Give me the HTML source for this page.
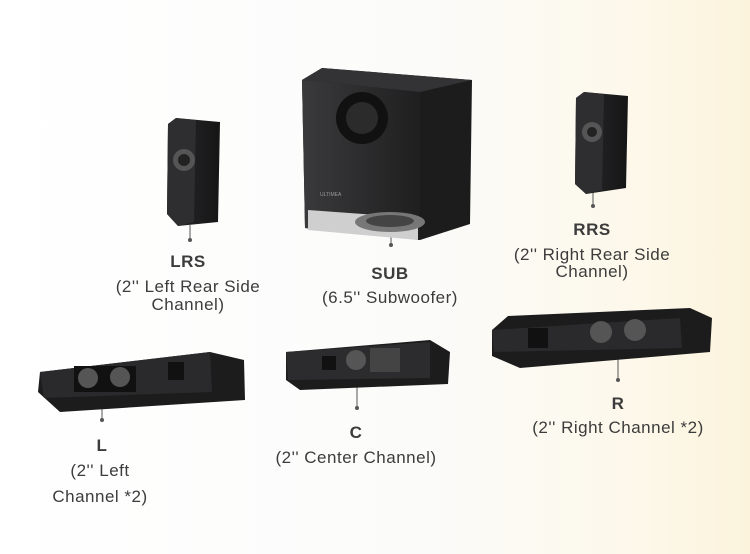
<!DOCTYPE html>
<html><head><meta charset="utf-8"><style>
html,body{margin:0;padding:0}
body{width:750px;height:554px;overflow:hidden;background:linear-gradient(90deg,#ffffff 0%,#fbfbfa 55%,#fdf8ea 85%,#fbf3dc 100%);font-family:"Liberation Sans",sans-serif}
svg{position:absolute;left:0;top:0}
</style></head><body>
<svg width="750" height="554" viewBox="0 0 750 554" xmlns="http://www.w3.org/2000/svg">
<defs>
<linearGradient id="dk" x1="0" y1="0" x2="1" y2="0"><stop offset="0" stop-color="#2a2a2c"/><stop offset="1" stop-color="#151516"/></linearGradient>
<linearGradient id="side" x1="0" y1="0" x2="1" y2="0"><stop offset="0" stop-color="#3a3a3c"/><stop offset="1" stop-color="#1f1f20"/></linearGradient>
</defs>
<g stroke="#555" stroke-width="1">
<line x1="190" y1="225" x2="190" y2="240"/><line x1="391" y1="232" x2="391" y2="245"/>
<line x1="593" y1="192" x2="593" y2="206"/><line x1="102" y1="398" x2="102" y2="420"/>
<line x1="357" y1="372" x2="357" y2="408"/><line x1="618" y1="355" x2="618" y2="380"/>
</g>
<g fill="#555"><circle cx="190" cy="240" r="2"/><circle cx="391" cy="245" r="2"/><circle cx="593" cy="206" r="2"/><circle cx="102" cy="420" r="2"/><circle cx="357" cy="408" r="2"/><circle cx="618" cy="380" r="2"/></g>
<polygon points="168,124 176,118 220,122 218,222 178,226 167,214" fill="url(#dk)"/>
<polygon points="168,124 176,118 196,120 194,222 178,226 167,214" fill="#2e2e30"/>
<circle cx="184" cy="160" r="11" fill="#555"/><circle cx="184" cy="160" r="6" fill="#222"/>
<polygon points="302,80 322,68 472,80 470,224 420,240 305,228" fill="#1c1c1d"/>
<polygon points="302,80 322,68 472,80 420,92" fill="#333335"/>
<polygon points="302,80 420,92 420,240 305,228" fill="url(#side)"/>
<circle cx="362" cy="118" r="26" fill="#111"/><circle cx="362" cy="118" r="16" fill="#2b2b2b"/>
<polygon points="308,210 418,218 418,240 308,230" fill="#cfcfcf"/>
<ellipse cx="390" cy="222" rx="35" ry="10" fill="#777"/><ellipse cx="390" cy="221" rx="24" ry="6" fill="#444"/>
<text x="320" y="196" font-size="5" fill="#999" font-family="Liberation Sans">ULTIMEA</text>
<polygon points="576,98 584,92 628,96 626,188 586,194 575,184" fill="url(#dk)"/>
<polygon points="576,98 584,92 604,94 602,190 586,194 575,184" fill="#2e2e30"/>
<circle cx="592" cy="132" r="10" fill="#555"/><circle cx="592" cy="132" r="5" fill="#222"/>
<polygon points="40,372 210,352 244,360 245,400 60,412 38,392" fill="#1c1c1d"/>
<polygon points="40,372 210,352 212,392 44,398" fill="#2a2a2c"/>
<rect x="74" y="366" width="62" height="26" fill="#111"/><circle cx="88" cy="378" r="10" fill="#555"/><circle cx="120" cy="377" r="10" fill="#555"/>
<rect x="168" y="362" width="16" height="18" fill="#111"/>
<polygon points="286,352 430,340 450,352 448,384 300,390 286,380" fill="#1c1c1d"/>
<polygon points="286,352 430,342 430,378 288,380" fill="#2c2c2e"/>
<circle cx="356" cy="360" r="10" fill="#555"/><rect x="370" y="348" width="30" height="24" fill="#444"/><rect x="322" y="356" width="14" height="14" fill="#111"/>
<polygon points="492,330 508,316 690,308 712,318 710,352 520,368 492,356" fill="#1c1c1d"/>
<polygon points="492,330 680,318 682,348 494,352" fill="#2a2a2c"/>
<rect x="528" y="328" width="20" height="20" fill="#111"/><circle cx="601" cy="332" r="11" fill="#555"/><circle cx="635" cy="330" r="11" fill="#555"/>
<g font-family="Liberation Sans, sans-serif" fill="#3c3c3c" text-anchor="middle" font-size="17" letter-spacing="0.5">
<text x="188" y="267" font-weight="bold">LRS</text>
<text x="188" y="292">(2'' Left Rear Side</text><text x="188" y="310">Channel)</text>
<text x="390" y="279" font-weight="bold">SUB</text>
<text x="390" y="303">(6.5'' Subwoofer)</text>
<text x="592" y="235" font-weight="bold">RRS</text>
<text x="592" y="260">(2'' Right Rear Side</text><text x="592" y="277">Channel)</text>
<text x="102" y="451" font-weight="bold">L</text>
<text x="100" y="476">(2'' Left</text><text x="100" y="502">Channel *2)</text>
<text x="356" y="438" font-weight="bold">C</text>
<text x="356" y="463">(2'' Center Channel)</text>
<text x="618" y="409" font-weight="bold">R</text>
<text x="618" y="433">(2'' Right Channel *2)</text>
</g>
</svg>
</body></html>
